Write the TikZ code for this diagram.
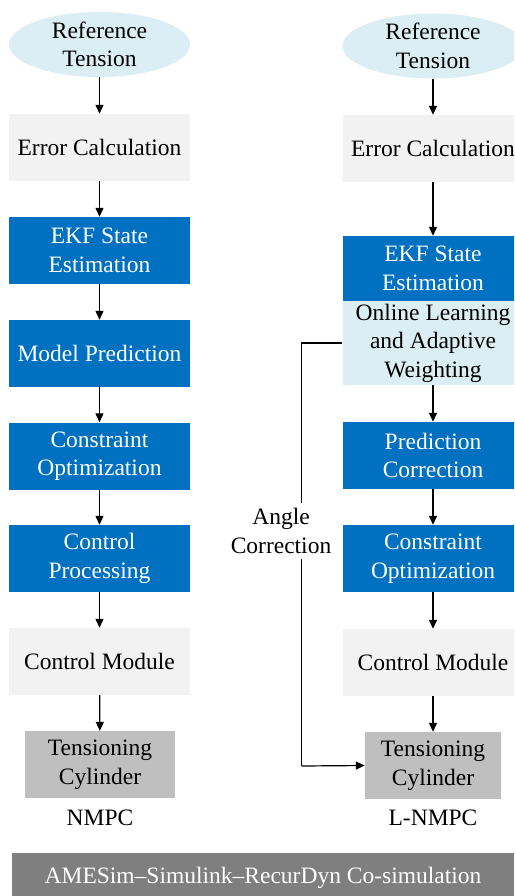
\documentclass[tikz,border=0pt]{standalone}
\usepackage{fontspec}
\setmainfont{Liberation Serif}
\usetikzlibrary{shapes.geometric,arrows.meta}
\definecolor{paleblue}{HTML}{DAEEF3}
\definecolor{palegray}{HTML}{F2F2F2}
\definecolor{deepblue}{HTML}{0070C0}
\definecolor{midgray}{HTML}{BFBFBF}
\definecolor{darkgray}{HTML}{7F7F7F}
\begin{document}
\begin{tikzpicture}[x=1pt,y=-1pt,
  font=\fontsize{23.5}{28.5}\selectfont,
  every node/.style={align=center,inner sep=0pt},
  refnode/.style={ellipse,fill=paleblue,minimum width=181pt,minimum height=65pt},
  lightbox/.style={rectangle,fill=palegray,minimum width=181pt,minimum height=67pt},
  bluebox/.style={rectangle,fill=deepblue,text=white,minimum width=181pt,minimum height=67pt},
  adaptbox/.style={rectangle,fill=paleblue,minimum width=181pt,minimum height=84pt},
  cylbox/.style={rectangle,fill=midgray,minimum height=67pt},
  flow/.style={draw=black,line width=1.2pt,-{Triangle[length=9pt,width=8pt]}},
  link/.style={draw=black,line width=1.2pt}]
\useasboundingbox (0,0) rectangle (514,896);
\clip (0,0) rectangle (514,896);

% NMPC chain
\node[refnode]  (r1)  at (99.5,44.5)  {Reference\\Tension};
\node[lightbox] (e1)  at (99.5,147.5) {Error Calculation};
\node[bluebox]  (k1)  at (99.5,250.5) {EKF State\\Estimation};
\node[bluebox]  (m1)  at (99.5,353.5) {Model Prediction};
\node[bluebox]  (o1)  at (99.5,456)   {Constraint\\Optimization};
\node[bluebox]  (p1)  at (99.5,558.5) {Control\\Processing};
\node[lightbox] (c1)  at (99.5,661.5) {Control Module};
\node[cylbox,minimum width=150pt] (t1) at (100,764.5) {Tensioning\\Cylinder};
\node (n1) at (100,818) {NMPC};

\draw[flow] (r1) -- (e1);
\draw[flow] (e1) -- (k1);
\draw[flow] (k1) -- (m1);
\draw[flow] (m1) -- (o1);
\draw[flow] (o1) -- (p1);
\draw[flow] (p1) -- (c1);
\draw[flow] (c1) -- (t1);

% L-NMPC chain
\node[refnode]  (r2)  at (433,46)    {Reference\\Tension};
\node[lightbox] (e2)  at (433,148.5) {Error Calculation};
\node[bluebox,minimum height=65pt] (k2) at (433,268.5) {EKF State\\Estimation};
\node[adaptbox] (a2)  at (433,343)   {Online Learning\\and Adaptive\\Weighting};
\node[bluebox]  (q2)  at (433,455.5) {Prediction\\Correction};
\node[bluebox]  (o2)  at (433,558.5) {Constraint\\Optimization};
\node[lightbox] (c2)  at (433,662.5) {Control Module};
\node[cylbox,minimum width=136pt] (t2) at (433,765.5) {Tensioning\\Cylinder};
\node (n2) at (433,818) {L-NMPC};

\draw[flow] (r2) -- (e2);
\draw[flow] (e2) -- (k2);
\draw[flow] (a2) -- (q2);
\draw[flow] (q2) -- (o2);
\draw[flow] (o2) -- (c2);
\draw[flow] (c2) -- (t2);

% angle correction feedback
\coordinate (bendtop) at (301.5,343);
\coordinate (bendbot) at (301.5,766);
\draw[link] (a2.west) -- (bendtop) -- (bendbot);
\draw[flow] (bendbot) -- (t2.west);
\node[fill=white,inner sep=5pt] (ac) at (281,531) {Angle\\Correction};

% co-simulation bar
\node[rectangle,fill=darkgray,minimum width=502pt,minimum height=43pt] (bar) at (263,874.5) {};
\node[text=white] (bartext) at (263,878) {AMESim–Simulink–RecurDyn Co-simulation};
\end{tikzpicture}
\end{document}
